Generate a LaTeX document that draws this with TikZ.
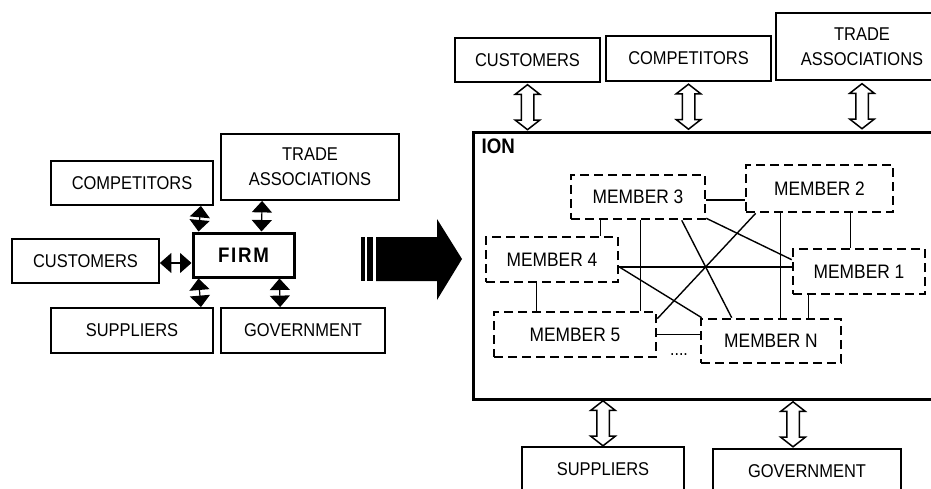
\documentclass[tikz,border=0pt]{standalone}
\usepackage{fontspec}
\setmainfont{Liberation Sans}[FakeStretch=0.89]
\usetikzlibrary{arrows.meta,shapes.arrows}

\begin{document}
\begin{tikzpicture}[x=1pt,y=1pt,
	party/.style={draw,line width=1.8pt,inner sep=0pt,align=center,font=\fontsize{18.5}{25}\selectfont},
	member/.style={party,line width=2.6pt,dash pattern=on 9pt off 5pt,font=\fontsize{19.5}{25}\selectfont},
	link/.style={line width=1.4pt},
	blkarrow/.style={line width=1.2pt,{Triangle[width=20pt,length=11.5pt]}-{Triangle[width=20pt,length=11.5pt]}},
	hollow/.style={draw,line width=1.5pt,fill=white,double arrow,rotate=90,minimum height=45pt,
		inner xsep=0pt,inner ysep=5.5pt,double arrow head extend=6pt,double arrow tip angle=104}]
	\clip (0,0) rectangle (931,488);

	% the single firm and its partners
	\node[party,minimum width=162,minimum height=44] (comp1) at (132,305) {COMPETITORS};
	\node[party,minimum width=178,minimum height=66] (trade1) at (310,321) {TRADE\\ASSOCIATIONS};
	\node[party,minimum width=147,minimum height=44] (cust1) at (85.5,227) {CUSTOMERS};
	\node[party,line width=3pt,minimum width=101,minimum height=44,
		font=\bfseries\fontsize{21}{25}\selectfont\addfontfeatures{LetterSpace=8}] (firm) at (243.5,233) {FIRM};
	\node[party,minimum width=162,minimum height=45] (supp1) at (132,157.5) {SUPPLIERS};
	\node[party,minimum width=164,minimum height=45] (gov1) at (303,157.5) {GOVERNMENT};

	\draw[blkarrow] ([xshift=-13]comp1.south east) -- ([xshift=7]firm.north west);
	\draw[blkarrow] ([xshift=42]trade1.south west) -- ([xshift=70]firm.north west);
	\draw[blkarrow] ([yshift=-2]cust1.east) -- ([yshift=-2]cust1.east -| firm.west);
	\draw[blkarrow] ([xshift=7]firm.south west) -- ([xshift=-13]supp1.north east);
	\draw[blkarrow] ([xshift=88]firm.south west) -- ([xshift=60]gov1.north west);

	% big arrow
	\fill (361,207) rectangle (365,251);
	\fill (367,207) rectangle (373,251);
	\fill (376,207) -- (437,207) -- (437,188) -- (462,229) -- (437,269) -- (437,251) -- (376,251) -- cycle;

	% the network
	\node[draw,line width=3pt,minimum width=482,minimum height=266,inner sep=0pt] (ion) at (714,222) {};
	\node[anchor=north west,inner sep=0pt,font=\bfseries\fontsize{21}{25}\selectfont] (ionlbl)
		at ([xshift=10,yshift=-7]ion.north west) {ION};

	\node[party,minimum width=145,minimum height=44] (cust2) at (527.5,428) {CUSTOMERS};
	\node[party,minimum width=165,minimum height=45] (comp2) at (688.5,429.5) {COMPETITORS};
	\node[party,minimum width=172,minimum height=67] (trade2) at (862,441.5) {TRADE\\ASSOCIATIONS};
	\node[party,minimum width=162,minimum height=45] (supp2) at (603,18.5) {SUPPLIERS};
	\node[party,minimum width=188,minimum height=45] (gov2) at (807,16.5) {GOVERNMENT};

	\path (cust2.south) -- (cust2.south |- ion.north) node[midway,hollow] {};
	\path (comp2.south) -- (comp2.south |- ion.north) node[midway,hollow] {};
	\path (trade2.south) -- (trade2.south |- ion.north) node[midway,hollow] {};
	\path (supp2.north |- ion.south) -- (supp2.north) node[midway,hollow] {};
	\path ([xshift=-14]gov2.north |- ion.south) -- ([xshift=-14]gov2.north) node[midway,hollow] {};

	\node[member,minimum width=134,minimum height=44] (m3) at (638,291) {MEMBER 3};
	\node[member,minimum width=147,minimum height=47] (m2) at (819.5,299.5) {MEMBER 2};
	\node[member,minimum width=132,minimum height=45] (m4) at (552,228.5) {MEMBER 4};
	\node[member,minimum width=132,minimum height=45] (m1) at (859,216.5) {MEMBER 1};
	\node[member,minimum width=162,minimum height=45] (m5) at (575,153.5) {MEMBER 5};
	\node[member,minimum width=140,minimum height=44] (mN) at (771,147) {MEMBER N};
	\node[font=\fontsize{18}{25}\selectfont,inner sep=0pt] (dots) at (679,133) {....};

	\draw[link] ([yshift=-3]m3.east) -- ([yshift=-3]m3.east -| m2.west);
	\draw[link] ([xshift=31]m3.south west) -- ([xshift=31]m3.south west |- m4.north);
	\draw[link] ([xshift=71]m3.south west) -- ([xshift=71]m3.south west |- m5.north);
	\draw[link] ([xshift=112]m3.south west) -- ([xshift=32]mN.north west);
	\draw[link] ([yshift=2]m3.south east) -- ([yshift=-12]m1.north west);
	\draw[link] ([xshift=11]m2.south west) -- ([yshift=-8]m5.north east);
	\draw[link] ([xshift=36]m2.south west) -- ([xshift=36]m2.south west |- mN.north);
	\draw[link] ([xshift=106]m2.south west) -- ([xshift=106]m2.south west |- m1.north);
	\draw[link] ([yshift=-7.5]m4.east) -- ([yshift=-7.5]m4.east -| m1.west);
	\draw[link] ([yshift=-7.5]m4.east) -- ([xshift=2]mN.north west);
	\draw[link] ([xshift=52]m4.south west) -- ([xshift=52]m4.south west |- m5.north);
	\draw[link] ([xshift=17]m1.south west) -- ([xshift=17]m1.south west |- mN.north);
	\draw[link] (m5.east) -- (m5.east -| mN.west);
\end{tikzpicture}
\end{document}
